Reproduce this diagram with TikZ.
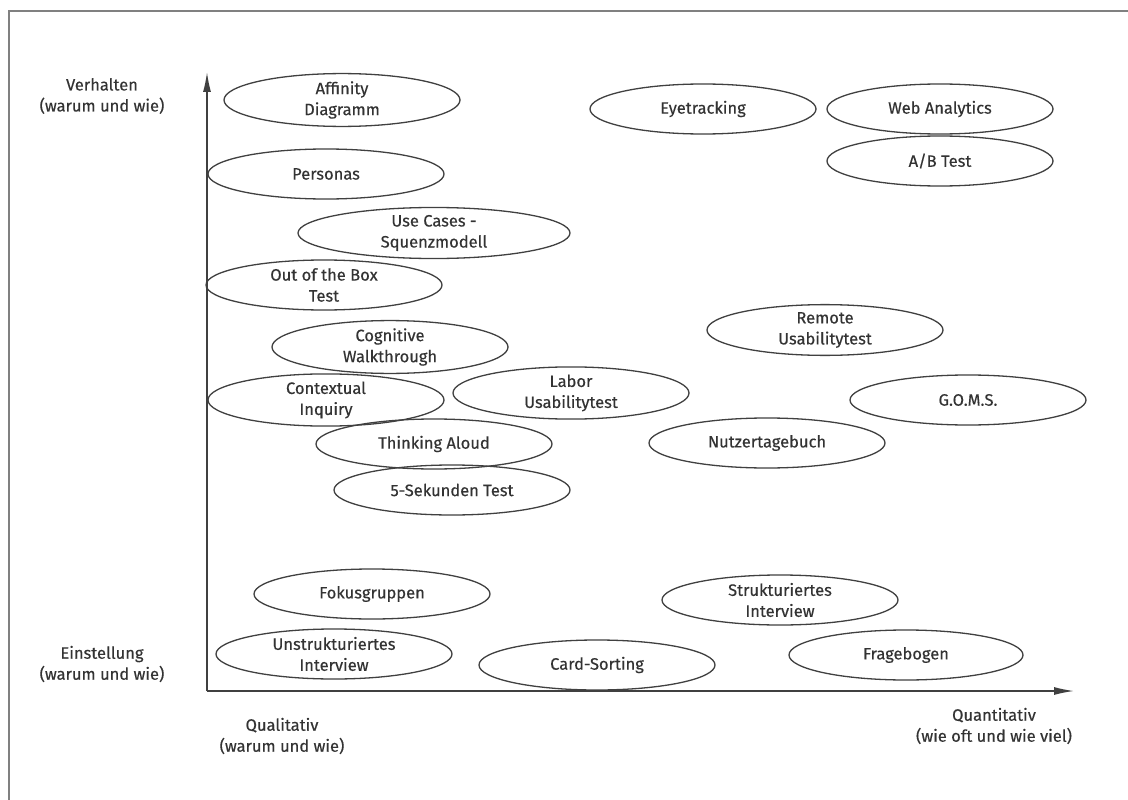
\documentclass[tikz,border=0pt]{standalone}
\usepackage{fontspec}
\setmainfont{Fira Sans}[BoldFont={Fira Sans},BoldFeatures={FakeBold=0.35}]
\usetikzlibrary{shapes.geometric,arrows.meta}

\begin{document}
\begin{tikzpicture}[x=1pt,y=-1pt,
  txt/.style={font=\fontsize{16.5}{21}\selectfont\bfseries, text=black!80},
  lbl/.style={txt, align=center, inner sep=0pt},
  method/.style={txt, ellipse, draw=black!75, line width=1.3pt, minimum width=236pt,
    minimum height=50pt, inner sep=0pt, align=center},
  frame/.style={draw=black!50, line width=2pt},
  axis/.style={draw=black!75, line width=1.4pt, -{Latex[length=20pt,width=8pt]}}]
\useasboundingbox (0,0) rectangle (1128,800);
\fill[white] (0,0) rectangle (1128,800);

% outer frame (top and left edges)
\draw[frame] (9,800) -- (9,11) -- (1128,11);

% axes
\coordinate (origin) at (207,691);
\coordinate (ytop) at (207,72);
\coordinate (xend) at (1074,691);
\draw[axis] (origin) -- (ytop);
\draw[axis] (origin) -- (xend);

% axis labels
\node[lbl] (verhalten) at (102,96) {Verhalten\\(warum und wie)};
\node[lbl] (einstellung) at (102,664) {Einstellung\\(warum und wie)};
\node[lbl] (qualitativ) at (282,736) {Qualitativ\\(warum und wie)};
\node[lbl] (quantitativ) at (994,726) {Quantitativ\\(wie oft und wie viel)};

% methods
\node[method] (affinity) at (342,100) {Affinity\\Diagramm};
\node[method] (personas) at (326,174) {Personas};
\node[method, minimum width=272pt] (usecases) at (434,233) {Use Cases -\\Squenzmodell};
\node[method] (outofbox) at (324,285) {Out of the Box\\Test};
\node[method] (cognitive) at (390,347) {Cognitive\\Walkthrough};
\node[method] (contextual) at (326,400) {Contextual\\Inquiry};
\node[method] (thinking) at (434,444) {Thinking Aloud};
\node[method] (fivesec) at (452,490) {5-Sekunden Test};
\node[method] (labor) at (571,393) {Labor\\Usabilitytest};

\node[method, minimum width=226pt] (eyetracking) at (703,109) {Eyetracking};
\node[method, minimum width=226pt] (webanalytics) at (940,109) {Web Analytics};
\node[method, minimum width=226pt] (abtest) at (940,161) {A/B Test};

\node[method] (remote) at (825,330) {Remote\\Usabilitytest};
\node[method] (goms) at (968,400) {G.O.M.S.};
\node[method] (tagebuch) at (767,443) {Nutzertagebuch};

\node[method] (fokus) at (372,594) {Fokusgruppen};
\node[method] (strukt) at (780,600) {Strukturiertes\\Interview};
\node[method] (unstrukt) at (334,654) {Unstrukturiertes\\Interview};
\node[method] (cardsort) at (597,665) {Card-Sorting};
\node[method, minimum width=234pt] (fragebogen) at (906,655) {Fragebogen};
\end{tikzpicture}
\end{document}
